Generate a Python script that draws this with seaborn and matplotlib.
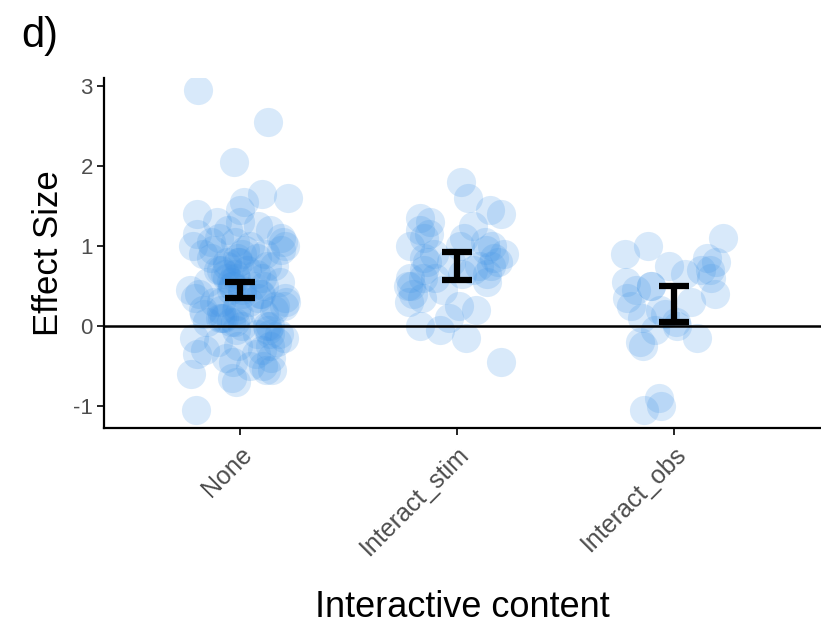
import numpy as np
import pandas as pd
import matplotlib
matplotlib.use("Agg")
import matplotlib.pyplot as plt
import seaborn as sns

# Categories on the x axis
categories = ["None", "Interact_stim", "Interact_obs"]

# Effect sizes per study, by kind of interactive content
none_vals = [2.95, 2.55, 2.05, 1.65, 1.6, 1.55, 1.45, 1.4, 1.3, 1.3, 1.25, 1.2,
             1.2, 1.15, 1.1, 1.1, 1.05, 1.05, 1.05, 1.0, 1.0, 1.0, 0.95, 0.95,
             0.95, 0.9, 0.9, 0.9, 0.85, 0.85, 0.85, 0.8, 0.8, 0.8, 0.75, 0.75,
             0.75, 0.7, 0.7, 0.7, 0.65, 0.65, 0.65, 0.6, 0.6, 0.6, 0.55, 0.55,
             0.55, 0.5, 0.5, 0.5, 0.5, 0.45, 0.45, 0.45, 0.4, 0.4, 0.4, 0.4,
             0.35, 0.35, 0.35, 0.3, 0.3, 0.3, 0.3, 0.25, 0.25, 0.25, 0.2, 0.2,
             0.2, 0.2, 0.15, 0.15, 0.15, 0.1, 0.1, 0.1, 0.05, 0.05, 0.05, 0.0,
             0.0, 0.0, -0.05, -0.05, -0.1, -0.1, -0.1, -0.15, -0.15, -0.2, -0.2,
             -0.25, -0.25, -0.3, -0.3, -0.35, -0.35, -0.4, -0.4, -0.45, -0.5,
             -0.5, -0.55, -0.55, -0.6, -0.65, -0.7, -1.05]
stim_vals = [1.8, 1.6, 1.45, 1.4, 1.35, 1.3, 1.25, 1.2, 1.15, 1.1, 1.1, 1.05,
             1.0, 1.0, 1.0, 0.95, 0.9, 0.9, 0.85, 0.85, 0.8, 0.8, 0.8, 0.75,
             0.75, 0.7, 0.7, 0.65, 0.65, 0.6, 0.6, 0.6, 0.55, 0.5, 0.5, 0.45,
             0.4, 0.35, 0.3, 0.25, 0.2, 0.1, 0.0, -0.05, -0.15, -0.45]
obs_vals = [1.1, 1.0, 0.9, 0.85, 0.8, 0.75, 0.7, 0.7, 0.65, 0.6, 0.55, 0.5,
            0.5, 0.45, 0.4, 0.35, 0.3, 0.25, 0.2, 0.15, 0.1, 0.05, 0.0, -0.05,
            -0.15, -0.2, -0.25, -0.9, -1.0, -1.05]

# Confidence interval of the mean effect per category
ci_low = [0.35, 0.575, 0.05]
ci_high = [0.55, 0.925, 0.50]

y_ticks = [-1, 0, 1, 2, 3]

df = pd.DataFrame({
    "content": (["None"] * len(none_vals) + ["Interact_stim"] * len(stim_vals)
                + ["Interact_obs"] * len(obs_vals)),
    "effect": none_vals + stim_vals + obs_vals,
})

sns.set_style("white")
plt.rcParams["font.family"] = ["Liberation Sans", "DejaVu Sans"]

fig = plt.figure(figsize=(8.21, 6.27), dpi=100)
ax = fig.add_axes([0.1267, 0.3174, 0.8733, 0.5582])

np.random.seed(7)
sns.stripplot(data=df, x="content", y="effect", order=categories,
              jitter=0.23, size=21, color="#3f93e6", alpha=0.2,
              linewidth=0, ax=ax, zorder=2)

# zero reference line
ax.axhline(0, color="black", lw=1.8, zorder=3)

# confidence intervals with caps
for i, (lo, hi) in enumerate(zip(ci_low, ci_high)):
    ax.errorbar(i, (lo + hi) / 2, yerr=[[(hi - lo) / 2], [(hi - lo) / 2]],
                fmt="none", ecolor="black", elinewidth=4.5, capsize=11,
                capthick=4.5, zorder=4)

ax.set_xlim(-0.627, 2.68)
ax.set_ylim(-1.27, 3.1)
ax.set_yticks(y_ticks)
ax.set_yticklabels([str(t) for t in y_ticks])

for side in ["top", "right"]:
    ax.spines[side].set_visible(False)
for side in ["left", "bottom"]:
    ax.spines[side].set_color("black")
    ax.spines[side].set_linewidth(1.6)

ax.tick_params(axis="both", which="both", direction="out", length=5, width=1.2,
               color="black", labelcolor="#4d4d4d", left=True, bottom=True)
ax.tick_params(axis="y", labelsize=16, pad=3)
ax.tick_params(axis="x", labelsize=18, pad=5)
for lab in ax.get_xticklabels():
    lab.set_rotation(45)
    lab.set_ha("right")
    lab.set_va("top")
    lab.set_rotation_mode("anchor")

ax.set_xlabel("Interactive content", fontsize=26, color="black", labelpad=22)
ax.set_ylabel("Effect Size", fontsize=25, color="black", labelpad=6)

fig.text(0.026, 0.975, "d)", fontsize=30, ha="left", va="top", color="black")

fig.savefig("out.png", dpi=100)
